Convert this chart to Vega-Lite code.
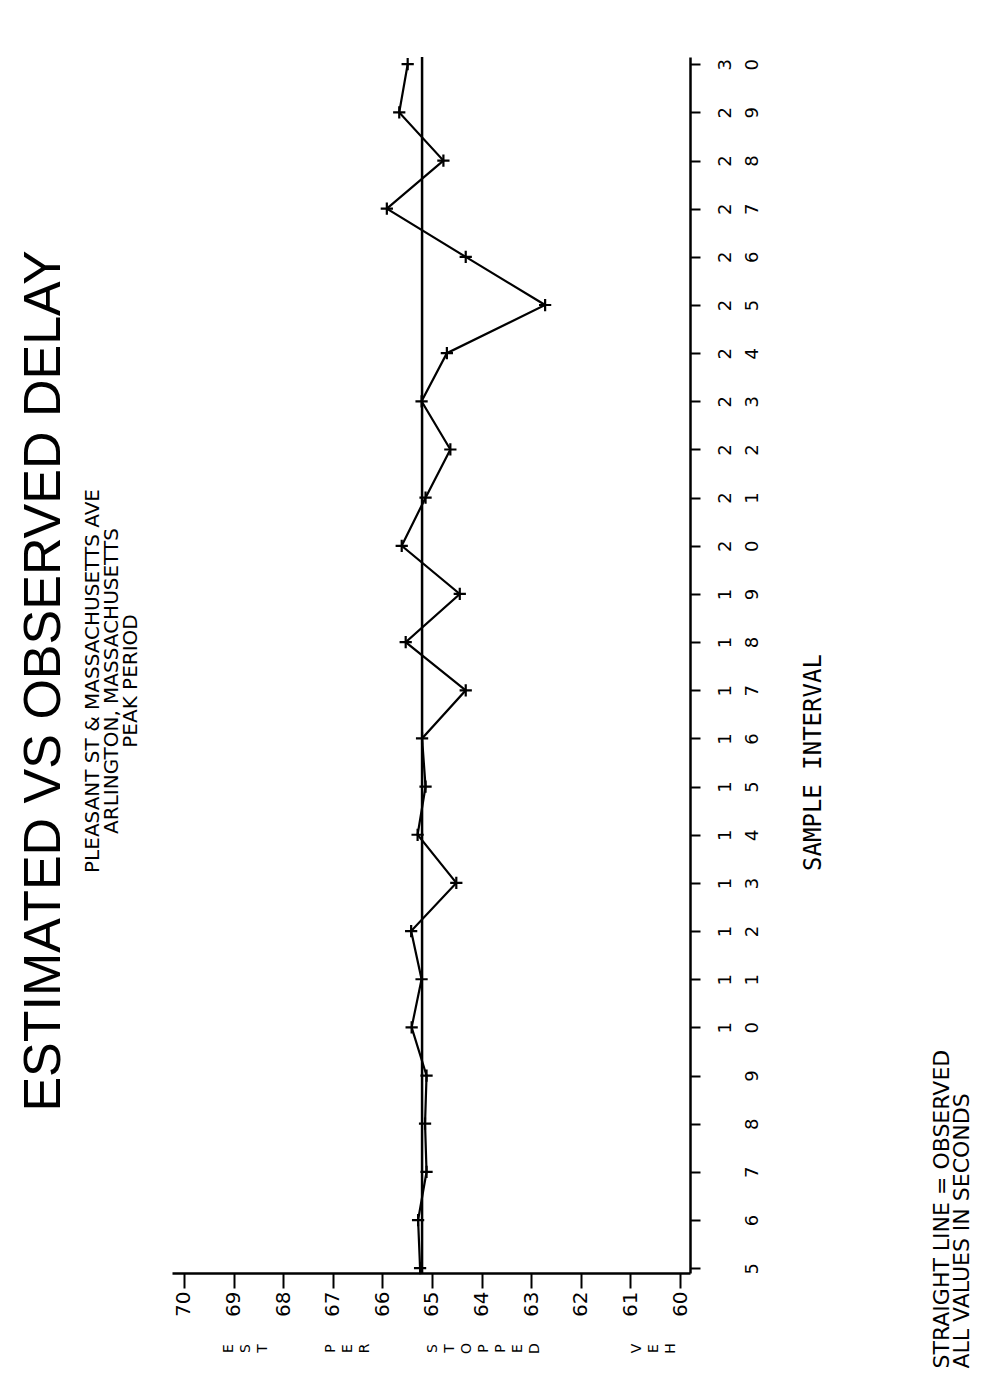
{
  "$schema": "https://vega.github.io/schema/vega-lite/v6.json",
  "width": 518,
  "height": 1216,
  "autosize": {"type": "none"},
  "padding": {"left": 172, "top": 57, "right": 293, "bottom": 105},
  "background": "white",
  "config": {
    "view": {"stroke": null},
    "axis": {"grid": false}
  },
  "title": {
    "text": "ESTIMATED VS OBSERVED DELAY",
    "subtitle": ["PLEASANT ST & MASSACHUSETTS AVE", "ARLINGTON, MASSACHUSETTS", "PEAK PERIOD"],
    "orient": "left",
    "anchor": "middle",
    "frame": "group",
    "offset": 30,
    "dx": -16,
    "font": "Liberation Sans",
    "fontSize": 52,
    "fontWeight": "normal",
    "color": "black",
    "subtitleFont": "DejaVu Sans",
    "subtitleFontSize": 20,
    "subtitleLineHeight": 19,
    "subtitlePadding": 12,
    "subtitleColor": "black"
  },
  "datasets": {
    "estimated": [
      {"interval": 5, "delay": 65.24},
      {"interval": 6, "delay": 65.28},
      {"interval": 7, "delay": 65.11},
      {"interval": 8, "delay": 65.14},
      {"interval": 9, "delay": 65.11},
      {"interval": 10, "delay": 65.41},
      {"interval": 11, "delay": 65.21},
      {"interval": 12, "delay": 65.42},
      {"interval": 13, "delay": 64.51},
      {"interval": 14, "delay": 65.29},
      {"interval": 15, "delay": 65.13},
      {"interval": 16, "delay": 65.2},
      {"interval": 17, "delay": 64.32},
      {"interval": 18, "delay": 65.53},
      {"interval": 19, "delay": 64.44},
      {"interval": 20, "delay": 65.61},
      {"interval": 21, "delay": 65.13},
      {"interval": 22, "delay": 64.63},
      {"interval": 23, "delay": 65.21},
      {"interval": 24, "delay": 64.7},
      {"interval": 25, "delay": 62.72},
      {"interval": 26, "delay": 64.32},
      {"interval": 27, "delay": 65.91},
      {"interval": 28, "delay": 64.77},
      {"interval": 29, "delay": 65.66},
      {"interval": 30, "delay": 65.49}
    ],
    "observed": [
      {"delay": 65.2}
    ]
  },
  "resolve": {"scale": {"x": "independent"}, "axis": {"x": "independent"}},
  "layer": [
    {
      "data": {"name": "estimated"},
      "encoding": {
        "x": {
          "field": "delay",
          "type": "quantitative",
          "scale": {"domain": [59.8, 70.24], "reverse": true, "nice": false, "zero": false},
          "axis": {
            "orient": "bottom",
            "values": [60, 61, 62, 63, 64, 65, 66, 67, 68, 69, 70],
            "labelAngle": 270,
            "labelAlign": "right",
            "labelBaseline": "middle",
            "labelPadding": 3,
            "labelFont": "DejaVu Sans",
            "labelFontSize": 20,
            "labelColor": "black",
            "labelOverlap": false,
            "labelFlush": false,
            "tickSize": 15,
            "tickWidth": 2,
            "tickColor": "black",
            "domainWidth": 2.5,
            "domainColor": "black",
            "title": ["E", "S", "T", "\u2800", "\u2800", "\u2800", "P", "E", "R", "\u2800", "\u2800", "\u2800", "S", "T", "O", "P", "P", "E", "D", "\u2800", "\u2800", "\u2800", "\u2800", "\u2800", "V", "E", "H"],
            "titleAngle": 270,
            "titleAlign": "center",
            "titleBaseline": "top",
            "titleFont": "DejaVu Sans",
            "titleFontSize": 14,
            "titleFontWeight": "normal",
            "titleLineHeight": 17,
            "titleColor": "black",
            "titleX": 49,
            "titleY": 75
          }
        },
        "y": {
          "field": "interval",
          "type": "quantitative",
          "scale": {"domain": [4.9, 30.15], "nice": false, "zero": false},
          "axis": {
            "orient": "right",
            "values": [5, 6, 7, 8, 9, 10, 11, 12, 13, 14, 15, 16, 17, 18, 19, 20, 21, 22, 23, 24, 25, 26, 27, 28, 29, 30],
            "labelExpr": "length(datum.label) > 1 ? [substring(datum.label, 0, 1), substring(datum.label, 1, 2)] : [' ', datum.label]",
            "labelAngle": 270,
            "labelAlign": "center",
            "labelBaseline": "top",
            "labelPadding": 16,
            "labelLineHeight": 27,
            "labelFont": "DejaVu Sans",
            "labelFontSize": 18,
            "labelColor": "black",
            "labelOverlap": false,
            "labelFlush": false,
            "tickSize": 10,
            "tickWidth": 2,
            "tickColor": "black",
            "domainWidth": 2.5,
            "domainColor": "black",
            "title": "SAMPLE INTERVAL",
            "titleAngle": 270,
            "titleAlign": "center",
            "titleBaseline": "top",
            "titleFont": "DejaVu Sans Mono",
            "titleFontSize": 24,
            "titleFontWeight": "normal",
            "titleColor": "black",
            "titlePadding": 40,
            "titleY": 705
          }
        }
      },
      "layer": [
        {
          "mark": {"type": "line", "color": "black", "strokeWidth": 2.2},
          "encoding": {"order": {"field": "interval", "type": "quantitative"}}
        },
        {"mark": {"type": "point", "shape": "M-1,0L1,0M0,-1L0,1", "filled": false, "stroke": "black", "strokeWidth": 2.2, "size": 150, "opacity": 1}}
      ]
    },
    {
      "data": {"name": "observed"},
      "mark": {"type": "rule", "color": "black", "strokeWidth": 2.5},
      "encoding": {
        "x": {
          "field": "delay",
          "type": "quantitative",
          "scale": {"domain": [59.8, 70.24], "reverse": true, "nice": false, "zero": false},
          "axis": {
            "orient": "top",
            "domain": false,
            "ticks": false,
            "labels": false,
            "title": ["STRAIGHT LINE = OBSERVED", "ALL VALUES IN SECONDS"],
            "titleAngle": 270,
            "titleAlign": "left",
            "titleBaseline": "top",
            "titleFont": "DejaVu Sans",
            "titleFontSize": 22,
            "titleFontWeight": "normal",
            "titleLineHeight": 20,
            "titleColor": "black",
            "titleX": 759,
            "titleY": 1311
          }
        }
      }
    }
  ]
}
